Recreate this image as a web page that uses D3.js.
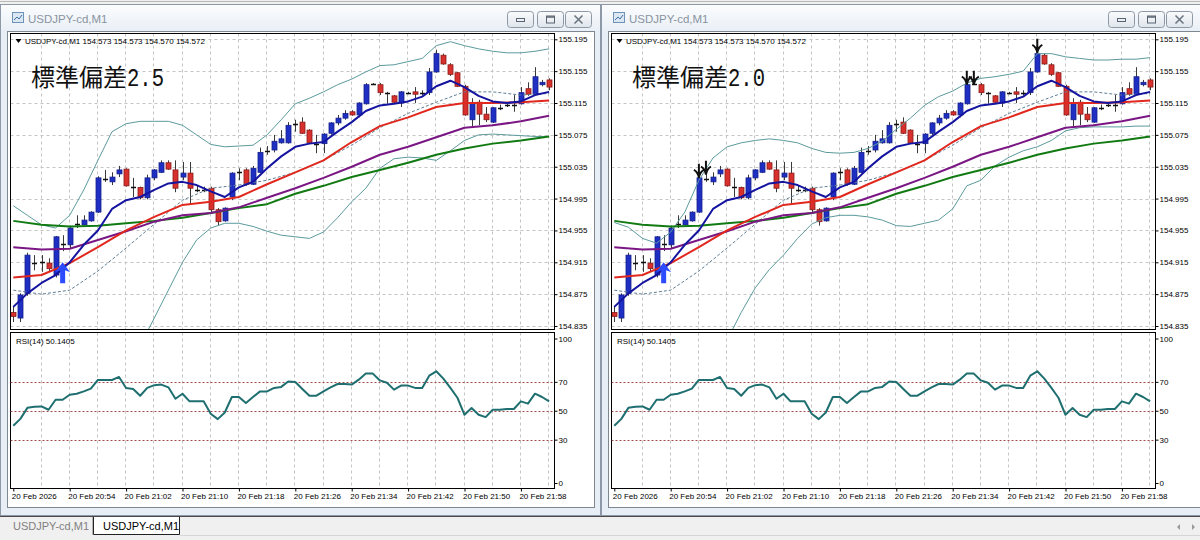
<!DOCTYPE html>
<html>
<head>
<meta charset="utf-8">
<script src="https://d3js.org/d3.v7.min.js"></script>
<style>
html,body{margin:0;padding:0;background:#f0f0f0;overflow:hidden}
svg{display:block}
text{font-family:"Liberation Sans",Arial,sans-serif}
</style>
</head>
<body>
<svg id="chart" width="1200" height="540"></svg>
<script>
// ---------------- DATA ----------------
const symbolTitle = "USDJPY-cd,M1";
const headerText = "USDJPY-cd,M1  154.573 154.573 154.570 154.572";
const rsiHeader = "RSI(14) 50.1405";
const chartNotes = ["標準偏差", "標準偏差"];
const chartNoteNums = ["2.5", "2.0"];

const priceTicks = [155.195,155.155,155.115,155.075,155.035,154.995,154.955,154.915,154.875,154.835];
const rsiTicks = [100,70,50,30,0];
const rsiLevels = [70,50,30];
const timeLabels = ["20 Feb 2026","20 Feb 20:54","20 Feb 21:02","20 Feb 21:10","20 Feb 21:18","20 Feb 21:26","20 Feb 21:34","20 Feb 21:42","20 Feb 21:50","20 Feb 21:58"];
const timeLabelBars = [0,8,16,24,32,40,48,56,64,72];
const gridBars = [4,8,12,16,20,24,28,32,36,40,44,48,52,56,60,64,68,72,76];

const open = [154.852,154.845,154.876,154.913,154.914,154.914,154.899,154.937,154.937,154.962,
154.962,154.967,154.978,155.018,155.016,155.026,155.032,155.010,155.009,154.996,
155.021,155.028,155.040,155.031,155.022,155.027,155.007,155.007,155.008,154.981,
154.967,154.997,155.030,155.031,155.013,155.028,155.056,155.056,155.065,155.065,
155.090,155.091,155.081,155.065,155.064,155.077,155.090,155.096,155.104,155.100,
155.114,155.139,155.138,155.128,155.124,155.115,155.128,155.129,155.127,155.128,
155.154,155.175,155.163,155.153,155.136,155.094,155.116,155.101,155.091,155.110,
155.114,155.114,155.114,155.133,155.126,155.138,155.144];
const high = [154.860,154.876,154.927,154.924,154.924,154.920,154.948,154.949,154.961,154.974,
154.974,154.979,155.023,155.031,155.028,155.036,155.033,155.021,155.010,155.025,
155.032,155.043,155.043,155.043,155.041,155.041,155.011,155.010,155.010,154.983,
154.984,155.028,155.033,155.033,155.036,155.059,155.061,155.075,155.081,155.091,
155.094,155.097,155.082,155.075,155.077,155.091,155.100,155.106,155.106,155.116,
155.140,155.140,155.140,155.129,155.125,155.130,155.129,155.135,155.131,155.159,
155.182,155.177,155.165,155.154,155.138,155.121,155.119,155.110,155.110,155.113,
155.116,155.125,155.135,155.141,155.160,155.144,155.146];
const low = [154.840,154.840,154.873,154.905,154.903,154.904,154.896,154.929,154.933,154.958,
154.961,154.966,154.977,155.016,155.012,155.022,155.010,154.997,154.994,154.994,
155.018,155.027,155.031,155.003,155.018,154.989,155.003,155.003,154.978,154.961,
154.966,154.993,155.018,155.011,155.012,155.027,155.050,155.053,155.064,155.064,
155.079,155.076,155.064,155.052,155.052,155.075,155.087,155.094,155.099,155.097,
155.113,155.138,155.125,155.114,155.115,155.110,155.126,155.115,155.125,155.125,
155.153,155.163,155.149,155.135,155.099,155.085,155.087,155.091,155.090,155.106,
155.110,155.104,155.113,155.124,155.125,155.136,155.131];
const close = [154.847,154.874,154.924,154.914,154.915,154.907,154.947,154.938,154.958,154.963,
154.968,154.978,155.021,155.019,155.022,155.031,155.011,155.009,154.996,155.021,
155.031,155.040,155.032,155.008,155.027,155.008,155.006,155.006,154.981,154.966,
154.983,155.027,155.029,155.013,155.033,155.053,155.055,155.067,155.070,155.087,
155.089,155.077,155.065,155.064,155.076,155.090,155.096,155.102,155.100,155.115,
155.138,155.139,155.128,155.127,155.116,155.129,155.127,155.126,155.128,155.154,
155.177,155.164,155.151,155.136,155.100,155.115,155.101,155.094,155.109,155.109,
155.113,155.113,155.128,155.126,155.148,155.141,155.135];

const rsi = [39.6,44.4,52.0,52.8,53.0,50.7,57.6,57.6,61.1,61.8,
63.4,65.3,71.3,71.3,71.3,73.4,65.8,65.1,60.4,65.8,
67.7,68.1,66.2,58.3,61.8,56.5,56.5,56.5,47.9,44.2,
48.8,59.5,59.5,55.3,59.5,63.4,63.4,65.8,66.5,70.3,
69.9,65.1,60.4,60.4,63.4,66.2,68.5,68.5,68.1,71.5,
75.7,75.7,71.0,69.4,64.6,67.4,67.4,65.8,65.8,74.3,
77.3,72.2,65.8,59.0,47.2,51.9,47.2,45.6,50.7,50.7,
51.2,51.2,56.5,54.9,61.8,59.5,56.5];

// line samples (bar indices)
const lineBars2 = [0,2,4,6,8,10,12,14,16,18,20,22,24,26,28,30,32,34,36,38,40,42,44,46,48,50,52,54,56,58,60,62,64,66,68,70,72,74,76];
const lineBars4 = [0,4,8,12,16,20,24,28,32,36,40,44,48,52,56,60,64,68,72,76];

const maBlue = [154.859,154.876,154.889,154.899,154.915,154.937,154.955,154.982,154.993,154.997,
155.006,155.014,155.016,155.012,155.004,154.997,155.009,155.016,155.033,155.048,
155.060,155.064,155.066,155.079,155.091,155.105,155.112,155.114,155.117,155.123,
155.136,155.143,155.135,155.124,155.117,155.115,155.117,155.125,155.129];
const maRed = [154.896,154.899,154.914,154.934,154.955,154.972,154.987,154.991,154.997,155.013,
155.028,155.043,155.066,155.086,155.097,155.110,155.115,155.115,155.116,155.118];
const maPurple = [154.934,154.931,154.932,154.943,154.954,154.966,154.974,154.977,154.984,154.996,
155.008,155.021,155.035,155.050,155.060,155.072,155.084,155.087,155.092,155.099];
const maGreen = [154.967,154.962,154.960,154.961,154.964,154.967,154.971,154.977,154.983,154.988,
155.001,155.011,155.022,155.031,155.040,155.050,155.058,155.064,155.068,155.073];
const bbMid = [154.880,154.875,154.880,154.904,154.933,154.963,154.993,155.008,155.012,155.018,
155.028,155.043,155.062,155.084,155.102,155.116,155.129,155.129,155.125,155.127];

const bbUpper25 = [154.986,154.974,154.962,154.958,154.974,155.006,155.043,155.079,155.089,155.092,
155.092,155.092,155.087,155.075,155.063,155.060,155.061,155.062,155.075,155.094,
155.114,155.121,155.129,155.138,155.145,155.154,155.162,155.163,155.167,155.171,
155.187,155.192,155.187,155.183,155.180,155.178,155.178,155.180,155.183];
const bbLower25 = [null,null,null,null,null,null,null,null,null,154.811,
154.845,154.880,154.915,154.943,154.958,154.964,154.964,154.960,154.954,154.949,
154.947,154.945,154.953,154.971,154.991,155.008,155.033,155.045,155.047,155.046,
155.043,155.055,155.068,155.075,155.076,155.075,155.074,155.073,155.073];
const bbUpper20 = [154.965,154.959,154.945,154.939,154.953,154.978,155.018,155.046,155.060,155.065,
155.068,155.070,155.068,155.065,155.058,155.053,155.052,155.053,155.058,155.067,
155.082,155.096,155.112,155.123,155.130,155.140,155.146,155.148,155.151,155.155,
155.177,155.177,155.173,155.171,155.169,155.169,155.170,155.170,155.172];
const bbLower20 = [null,null,null,null,null,null,null,null,154.817,154.852,
154.883,154.906,154.924,154.945,154.963,154.971,154.974,154.974,154.972,154.968,
154.961,154.960,154.964,154.968,154.982,155.011,155.018,155.036,155.047,155.055,
155.060,155.068,155.080,155.084,155.085,155.085,155.085,155.086,155.086];

const buyArrowBars = [7];
const buyArrowPrices = [154.915];
const sellArrowBars = [12,13,50,51,60];
const sellArrowPrices = [155.021,155.025,155.138,155.138,155.178];

// ---------------- DRAWING ----------------
const svg = d3.select('#chart');
const defs = svg.append('defs');
function grad(id, c1, c2){
  const g = defs.append('linearGradient').attr('id',id).attr('x1',0).attr('y1',0).attr('x2',0).attr('y2',1);
  g.append('stop').attr('offset','0%').attr('stop-color',c1);
  g.append('stop').attr('offset','100%').attr('stop-color',c2);
}
grad('titleGrad','#fbfcfe','#e9eff6');
grad('btnGrad','#fafbfc','#dfe5ec');

svg.append('rect').attr('width',1200).attr('height',540).attr('fill','#f0f0f0');
svg.append('line').attr('x1',0).attr('x2',1200).attr('y1',1.5).attr('y2',1.5).attr('stroke','#b9b9b9');

function drawWindow(ox, w){
  const g = svg.append('g').attr('transform',`translate(${ox},0)`);
  g.append('rect').attr('x',0.5).attr('y',4.5).attr('width',w-1).attr('height',511)
    .attr('fill','#e8eef5').attr('stroke','#8d99a6');
  g.append('rect').attr('x',1).attr('y',5).attr('width',w-2).attr('height',26).attr('fill','url(#titleGrad)');
  // icon
  g.append('rect').attr('x',12.5).attr('y',12.5).attr('width',11).attr('height',10).attr('fill','#dbe7f3').attr('stroke','#6f93b8');
  g.append('path').attr('d','M14 20 L17 17 L19 19 L22 15').attr('fill','none').attr('stroke','#3d6ea5').attr('stroke-width',1);
  g.append('text').attr('x',28).attr('y',23).text(symbolTitle)
    .attr('font-family','"Noto Sans",sans-serif').attr('font-size',11.5).attr('fill','#8893a0');
  // buttons
  const bx = [507,537,565];
  bx.forEach((x,k)=>{
    g.append('rect').attr('x',x+0.5).attr('y',11.5).attr('width',26).attr('height',16).attr('rx',3)
      .attr('fill','url(#btnGrad)').attr('stroke','#8e99a5');
    const cx = x+13.5, cy = 19.5;
    if(k===0){ g.append('rect').attr('x',cx-4).attr('y',cy-1).attr('width',8).attr('height',3).attr('fill','none').attr('stroke','#5a6470'); }
    if(k===1){ g.append('rect').attr('x',cx-4).attr('y',cy-3.5).attr('width',8).attr('height',7).attr('fill','none').attr('stroke','#5a6470');
               g.append('line').attr('x1',cx-4).attr('x2',cx+4).attr('y1',cy-2.5).attr('y2',cy-2.5).attr('stroke','#5a6470').attr('stroke-width',1.5); }
    if(k===2){ g.append('path').attr('d',`M${cx-4} ${cy-4} L${cx+4} ${cy+4} M${cx+4} ${cy-4} L${cx-4} ${cy+4}`).attr('stroke','#6b7580').attr('stroke-width',1.6); }
  });
  g.append('rect').attr('x',7.5).attr('y',31.5).attr('width',w-14).attr('height',476).attr('fill','#ffffff').attr('stroke','#7f8790');
}
drawWindow(0, 601);
drawWindow(601, 620);

function drawChart(ox, key, noteNum, upper, lower, showSell){
  const g = svg.append('g').attr('transform',`translate(${ox},0)`);
  const L = 10.5, R = 554.5, T = 33.5, B = 329.5, RT = 332.5, RB = 488.5;
  const x = d3.scaleLinear().domain([0,76]).range([13.3,549.1]);
  const y = d3.scaleLinear().domain([154.835,155.195]).range([326,39.3]);
  const yr = d3.scaleLinear().domain([0,100]).range([483,338.5]);

  defs.append('clipPath').attr('id','clipMain'+key).append('rect').attr('x',L).attr('y',T).attr('width',R-L).attr('height',B-T);
  defs.append('clipPath').attr('id','clipRsi'+key).append('rect').attr('x',L).attr('y',RT).attr('width',R-L).attr('height',RB-RT);

  // grid main
  const grid = g.append('g').attr('stroke','#c4c4c4').attr('stroke-dasharray','3,3').attr('stroke-width',1);
  priceTicks.forEach(p=>{
    const yy = Math.round(y(p))+0.5;
    grid.append('line').attr('x1',L).attr('x2',R).attr('y1',yy).attr('y2',yy);
  });
  gridBars.forEach(b=>{
    const xx = Math.round(x(b))-0.5;
    grid.append('line').attr('x1',xx).attr('x2',xx).attr('y1',T).attr('y2',B);
    grid.append('line').attr('x1',xx).attr('x2',xx).attr('y1',RT).attr('y2',RB);
  });

  const main = g.append('g').attr('clip-path',`url(#clipMain${key})`);

  // candles
  const idx = open.map((d,i)=>i);
  main.append('g').selectAll('line').data(idx).join('line')
    .attr('x1',i=>Math.round(x(i))+0.5).attr('x2',i=>Math.round(x(i))+0.5)
    .attr('y1',i=>y(high[i])).attr('y2',i=>y(low[i]))
    .attr('stroke','#3a3a3a').attr('stroke-width',1);
  main.append('g').selectAll('rect').data(idx.filter(i=>Math.abs(y(open[i])-y(close[i]))>=1.5)).join('rect')
    .attr('x',i=>Math.round(x(i))-2).attr('width',5)
    .attr('y',i=>y(Math.max(open[i],close[i])))
    .attr('height',i=>Math.abs(y(open[i])-y(close[i])))
    .attr('fill',i=>close[i]>open[i]?'#1f2fc4':'#d8302c')
    .attr('stroke',i=>close[i]>open[i]?'#15208a':'#8a1d1a').attr('stroke-width',0.8);
  main.append('g').selectAll('line').data(idx.filter(i=>Math.abs(y(open[i])-y(close[i]))<1.5)).join('line')
    .attr('x1',i=>Math.round(x(i))-2).attr('x2',i=>Math.round(x(i))+3)
    .attr('y1',i=>Math.round(y(close[i]))+0.5).attr('y2',i=>Math.round(y(close[i]))+0.5)
    .attr('stroke','#111').attr('stroke-width',1.5);

  const mk = (bars, vals) => bars.map((b,k)=>({b, v: vals[k]}));
  const line = d3.line().defined(d=>d.v!=null).x(d=>x(d.b)).y(d=>y(d.v));
  const addLine = (bars, vals, color, w, dash) => {
    const p = main.append('path').datum(mk(bars,vals)).attr('d',line)
      .attr('fill','none').attr('stroke',color).attr('stroke-width',w).attr('stroke-linejoin','round');
    if(dash) p.attr('stroke-dasharray',dash);
  };
  addLine(lineBars2, upper, '#5b9a9c', 1);
  addLine(lineBars2, lower, '#5b9a9c', 1);
  addLine(lineBars4, bbMid, '#5d7d94', 1, '3,2');
  addLine(lineBars4, maGreen, '#127a12', 2);
  addLine(lineBars4, maPurple, '#7b1784', 2);
  addLine(lineBars4, maRed, '#e0281e', 2);
  addLine(lineBars2, maBlue, '#1414a0', 2);

  // buy arrows
  buyArrowBars.forEach((b,k)=>{
    const cx = x(b), ty = y(buyArrowPrices[k]);
    main.append('path').attr('d',`M${cx} ${ty} L${cx+7.5} ${ty+10} L${cx+2.5} ${ty+8} L${cx+2.5} ${ty+21} L${cx-2.5} ${ty+21} L${cx-2.5} ${ty+8} L${cx-7.5} ${ty+10} Z`)
      .attr('fill','#2d4bff');
  });
  if(showSell){
    sellArrowBars.forEach((b,k)=>{
      const cx = x(b), ty = y(sellArrowPrices[k]);
      main.append('path').attr('d',`M${cx} ${ty-14} L${cx} ${ty-1} M${cx-5} ${ty-8} Q${cx-1} ${ty-6} ${cx} ${ty} Q${cx+1} ${ty-6} ${cx+5} ${ty-8}`)
        .attr('fill','none').attr('stroke','#111').attr('stroke-width',2);
    });
  }

  // frames
  g.append('rect').attr('x',L).attr('y',T).attr('width',R-L).attr('height',B-T).attr('fill','none').attr('stroke','#000');
  g.append('rect').attr('x',L).attr('y',RT).attr('width',R-L).attr('height',RB-RT).attr('fill','none').attr('stroke','#000');

  // price axis
  const ax = g.append('g').attr('transform',`translate(${R},0)`)
    .call(d3.axisRight(y).tickValues(priceTicks).tickFormat(d3.format('.3f')).tickSize(3).tickPadding(1));
  ax.select('.domain').remove();
  ax.selectAll('text').attr('font-size',8).attr('font-family','"Liberation Sans",Arial,sans-serif').attr('fill','#000');
  ax.selectAll('line').attr('stroke','#000');

  // RSI
  const rg = g.append('g').attr('clip-path',`url(#clipRsi${key})`);
  rsiLevels.forEach(v=>{
    const yy = Math.round(yr(v))+0.5;
    rg.append('line').attr('x1',L).attr('x2',R).attr('y1',yy).attr('y2',yy)
      .attr('stroke','#a84a4a').attr('stroke-dasharray','2,2').attr('stroke-width',1);
  });
  rg.append('path').datum(rsi).attr('d',d3.line().x((d,i)=>x(i)).y(d=>yr(d)))
    .attr('fill','none').attr('stroke','#1f6f70').attr('stroke-width',2).attr('stroke-linejoin','round');
  const ar = g.append('g').attr('transform',`translate(${R},0)`)
    .call(d3.axisRight(yr).tickValues(rsiTicks).tickFormat(d3.format('d')).tickSize(3).tickPadding(1));
  ar.select('.domain').remove();
  ar.selectAll('text').attr('font-size',8).attr('font-family','"Liberation Sans",Arial,sans-serif').attr('fill','#000');
  ar.selectAll('line').attr('stroke','#000');

  // time axis
  const tx = g.append('g').attr('transform',`translate(0,${RB})`)
    .call(d3.axisBottom(x).tickValues(timeLabelBars).tickFormat((d,k)=>timeLabels[k]).tickSize(3).tickPadding(2));
  tx.select('.domain').remove();
  tx.selectAll('text').attr('font-size',8).attr('font-family','"Liberation Sans",Arial,sans-serif').attr('fill','#000')
    .attr('text-anchor','start').attr('dx',-2);
  tx.selectAll('line').attr('stroke','#000');

  // headers
  g.append('path').attr('d','M15.5 39 L21.5 39 L18.5 43 Z').attr('fill','#000');
  g.append('text').attr('x',25).attr('y',44).text(headerText).attr('font-size',8).attr('fill','#000');
  g.append('text').attr('x',16).attr('y',344).text(rsiHeader).attr('font-size',8).attr('fill','#000');

  const note = g.append('text').attr('x',31).attr('y',86).attr('fill','#111');
  note.append('tspan').text(chartNotes[key]).attr('font-family','"Noto Sans CJK JP",sans-serif').attr('font-size',24);
  note.append('tspan').text(noteNum).attr('font-family','"Liberation Mono",monospace').attr('font-size',25)
    .attr('textLength',37).attr('lengthAdjust','spacingAndGlyphs');
}

drawChart(0, 0, chartNoteNums[0], bbUpper25, bbLower25, false);
drawChart(601, 1, chartNoteNums[1], bbUpper20, bbLower20, true);

// bottom tab bar
svg.append('line').attr('x1',0).attr('x2',1200).attr('y1',516.5).attr('y2',516.5).attr('stroke','#4a4a4a');
svg.append('rect').attr('x',0).attr('y',517).attr('width',1200).attr('height',23).attr('fill','#f0f0f0');
svg.append('text').attr('x',13).attr('y',530).text(symbolTitle).attr('font-family','"Noto Sans",sans-serif').attr('font-size',11).attr('fill','#808080');
svg.append('line').attr('x1',92.5).attr('x2',92.5).attr('y1',517).attr('y2',535).attr('stroke','#b5b5b5');
svg.append('path').attr('d','M93.5 517 L93.5 534.5 L179.5 534.5 L179.5 517').attr('fill','#fff').attr('stroke','#222');
svg.append('text').attr('x',103).attr('y',530).text(symbolTitle).attr('font-family','"Noto Sans",sans-serif').attr('font-size',11).attr('fill','#000');
svg.append('line').attr('x1',180).attr('x2',1200).attr('y1',535.5).attr('y2',535.5).attr('stroke','#d6d6d6');
svg.append('path').attr('d','M1180 524 L1177 527 L1180 530 Z M1192 524 L1195 527 L1192 530 Z').attr('fill','#9a9a9a');
</script>
</body>
</html>
